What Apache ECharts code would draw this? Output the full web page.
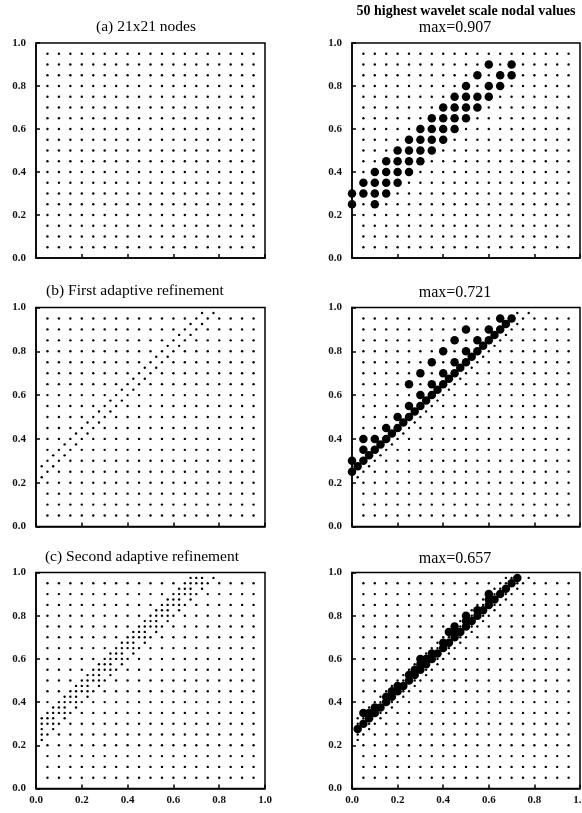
<!DOCTYPE html>
<html>
<head>
<meta charset="utf-8">
<script src="https://cdn.jsdelivr.net/npm/echarts@6/dist/echarts.min.js"></script>
<style>
  html, body { margin: 0; padding: 0; background: #fff; }
  #chart { width: 582px; height: 813px; }
</style>
</head>
<body>
<div id="chart"></div>
<script>
// interior node positions of the 21x21 mesh (boundary not drawn)
const nodeTicks = [0.05, 0.1, 0.15, 0.2, 0.25, 0.3, 0.35, 0.4, 0.45, 0.5,
                   0.55, 0.6, 0.65, 0.7, 0.75, 0.8, 0.85, 0.9, 0.95];
const axisTicks = [0, 0.2, 0.4, 0.6, 0.8, 1.0];

// nodes added by first refinement
const refine1 = [
  [0.025,0.225],[0.075,0.275],[0.125,0.325],[0.175,0.375],[0.225,0.425],[0.275,0.475],
  [0.325,0.525],[0.375,0.575],[0.425,0.625],[0.475,0.675],[0.525,0.725],[0.575,0.775],
  [0.625,0.825],[0.675,0.875],[0.725,0.925],[0.775,0.975],
  [0.025,0.275],[0.075,0.325],[0.125,0.375],[0.175,0.425],[0.225,0.475],[0.275,0.525],
  [0.325,0.575],[0.375,0.625],[0.425,0.675],[0.475,0.725],[0.525,0.775],[0.575,0.825],
  [0.625,0.875],[0.675,0.925],[0.725,0.975]
];

// nodes added by second refinement
const refine2 = [
  [0.025,0.325],[0.075,0.375],[0.125,0.425],[0.175,0.475],[0.225,0.525],[0.275,0.575],
  [0.325,0.625],[0.375,0.675],[0.425,0.725],[0.475,0.775],[0.525,0.825],[0.575,0.875],
  [0.625,0.925],[0.675,0.975],
  [0.05,0.325],[0.1,0.375],[0.15,0.425],[0.2,0.475],[0.25,0.525],[0.3,0.575],[0.35,0.625],
  [0.4,0.675],[0.45,0.725],[0.5,0.775],[0.55,0.825],[0.6,0.875],[0.65,0.925],[0.7,0.975],
  [0.025,0.3],[0.075,0.35],[0.125,0.4],[0.175,0.45],[0.225,0.5],[0.275,0.55],[0.325,0.6],
  [0.375,0.65],[0.425,0.7],[0.475,0.75],[0.525,0.8],[0.575,0.85],[0.625,0.9],[0.675,0.95],
  [0.025,0.25],[0.075,0.3],[0.125,0.35],[0.175,0.4],[0.225,0.45],[0.275,0.5],[0.325,0.55],
  [0.375,0.6],[0.425,0.65],[0.475,0.7],[0.525,0.75],[0.575,0.8],[0.625,0.85],[0.675,0.9],
  [0.725,0.95]
];

// 50 highest wavelet scale nodal values, per mesh
const bigA = [
  [0.6,0.9],[0.7,0.9],
  [0.55,0.85],[0.65,0.85],[0.7,0.85],
  [0.5,0.8],[0.6,0.8],[0.65,0.8],
  [0.45,0.75],[0.5,0.75],[0.55,0.75],[0.6,0.75],
  [0.4,0.7],[0.45,0.7],[0.5,0.7],[0.55,0.7],
  [0.35,0.65],[0.4,0.65],[0.45,0.65],[0.5,0.65],
  [0.3,0.6],[0.35,0.6],[0.4,0.6],[0.45,0.6],
  [0.25,0.55],[0.3,0.55],[0.35,0.55],[0.4,0.55],
  [0.2,0.5],[0.25,0.5],[0.3,0.5],[0.35,0.5],
  [0.15,0.45],[0.2,0.45],[0.25,0.45],[0.3,0.45],
  [0.1,0.4],[0.15,0.4],[0.2,0.4],[0.25,0.4],
  [0.05,0.35],[0.1,0.35],[0.15,0.35],[0.2,0.35],
  [0,0.3],[0.05,0.3],[0.1,0.3],[0.15,0.3],
  [0,0.25],[0.1,0.25]
];
const bigB = [
  [0,0.25],[0.025,0.275],[0.05,0.3],[0.075,0.325],[0.1,0.35],[0.125,0.375],[0.15,0.4],
  [0.175,0.425],[0.2,0.45],[0.225,0.475],[0.25,0.5],[0.275,0.525],[0.3,0.55],[0.325,0.575],
  [0.35,0.6],[0.375,0.625],[0.4,0.65],[0.425,0.675],[0.45,0.7],[0.475,0.725],[0.5,0.75],
  [0.525,0.775],[0.55,0.8],[0.575,0.825],[0.6,0.85],[0.625,0.875],[0.65,0.9],[0.675,0.925],
  [0.7,0.95],
  [0,0.3],[0.05,0.35],[0.1,0.4],[0.15,0.45],[0.2,0.5],[0.25,0.55],[0.3,0.6],[0.35,0.65],
  [0.4,0.7],[0.45,0.75],[0.5,0.8],[0.55,0.85],[0.6,0.9],[0.65,0.95],
  [0.25,0.65],[0.3,0.7],[0.35,0.75],[0.4,0.8],[0.45,0.85],[0.5,0.9],
  [0.05,0.4]
];
const bigC = [
  [0.025,0.275],[0.05,0.3],[0.075,0.325],[0.1,0.35],[0.125,0.375],[0.15,0.4],[0.175,0.425],
  [0.2,0.45],[0.225,0.475],[0.25,0.5],[0.275,0.525],[0.3,0.55],[0.325,0.575],[0.35,0.6],
  [0.375,0.625],[0.4,0.65],[0.425,0.675],[0.45,0.7],[0.475,0.725],[0.5,0.75],[0.525,0.775],
  [0.55,0.8],[0.575,0.825],[0.6,0.85],[0.625,0.875],[0.65,0.9],[0.675,0.925],[0.7,0.95],
  [0.725,0.975],
  [0.075,0.35],[0.1,0.375],[0.15,0.425],[0.175,0.45],[0.2,0.475],
  [0.25,0.525],[0.275,0.55],[0.3,0.575],[0.325,0.6],[0.35,0.625],[0.4,0.675],
  [0.45,0.725],[0.5,0.775],[0.55,0.825],[0.6,0.875],
  [0.05,0.35],[0.3,0.6],[0.425,0.725],[0.45,0.75],[0.5,0.8],[0.6,0.9]
];

const titles = [
  ['(a) 21x21 nodes', 146, 27, '15.5px'],
  ['(b) First adaptive refinement', 135, 291, '15.5px'],
  ['(c) Second adaptive refinement', 142, 557, '15.5px'],
  ['max=0.907', 455, 28, '16px'],
  ['max=0.721', 455, 293, '16px'],
  ['max=0.657', 455, 559, '16px'],
  ['50 highest wavelet scale nodal values', 466, 11, 'bold 14px']
];

// mesh = product of the node positions, then refined
let meshA = [];
nodeTicks.forEach(x => nodeTicks.forEach(y => meshA.push([x, y])));
const meshB = meshA.concat(refine1);
const meshC = meshB.concat(refine2);

const same = (p, q) => Math.abs(p[0] - q[0]) < 1e-6 && Math.abs(p[1] - q[1]) < 1e-6;
const without = (mesh, big) => mesh.filter(p => !big.some(q => same(p, q)));

const serif = '"Liberation Serif", "DejaVu Serif", serif';
const rows = [{top: 43, height: 215}, {top: 307.5, height: 219}, {top: 572.5, height: 216}];
const cols = [{left: 36, width: 229}, {left: 352, width: 228}];

let grids = [], xAxes = [], yAxes = [], series = [];
const panels = [
  [meshA, []], [meshA, bigA],
  [meshB, []], [meshB, bigB],
  [meshC, []], [meshC, bigC]
];

panels.forEach((p, i) => {
  const r = rows[Math.floor(i / 2)], c = cols[i % 2];
  grids.push({
    left: c.left, width: c.width, top: r.top, height: r.height,
    outerBoundsMode: 'none', containLabel: false,
    show: true, borderColor: '#000', borderWidth: 1.5, backgroundColor: 'transparent'
  });
  const axisBase = {
    gridIndex: i, type: 'value', min: 0, max: 1, interval: 0.2,
    axisLine: {show: true, lineStyle: {color: '#000', width: 1.5}},
    axisTick: {show: true, inside: true, length: 4, lineStyle: {color: '#000', width: 1.5}},
    splitLine: {show: false},
    axisLabel: {
      fontFamily: serif, fontSize: 11, fontWeight: 'bold', color: '#111',
      formatter: v => v.toFixed(1)
    }
  };
  xAxes.push(Object.assign({}, axisBase, {
    axisLabel: Object.assign({}, axisBase.axisLabel, {show: i >= 4, margin: 6})
  }));
  yAxes.push(Object.assign({}, axisBase, {
    axisLabel: Object.assign({}, axisBase.axisLabel, {margin: 10})
  }));
  series.push({
    type: 'scatter', xAxisIndex: i, yAxisIndex: i, clip: false,
    symbol: 'circle', symbolSize: 2.4,
    itemStyle: {color: '#000', opacity: 1},
    data: without(p[0], p[1])
  });
  if (p[1].length) {
    series.push({
      type: 'scatter', xAxisIndex: i, yAxisIndex: i, clip: false,
      symbol: 'circle', symbolSize: 8.5,
      itemStyle: {color: '#000', opacity: 1},
      data: p[1]
    });
  }
});

const graphics = titles.map(t => ({
  type: 'text', x: t[1], y: t[2],
  style: {text: t[0], font: t[3] + ' ' + serif, fill: '#000', align: 'center', verticalAlign: 'middle'}
}));

const myChart = echarts.init(document.getElementById('chart'));
myChart.setOption({
  animation: false,
  grid: grids,
  xAxis: xAxes,
  yAxis: yAxes,
  series: series,
  graphic: graphics
});
</script>
</body>
</html>
